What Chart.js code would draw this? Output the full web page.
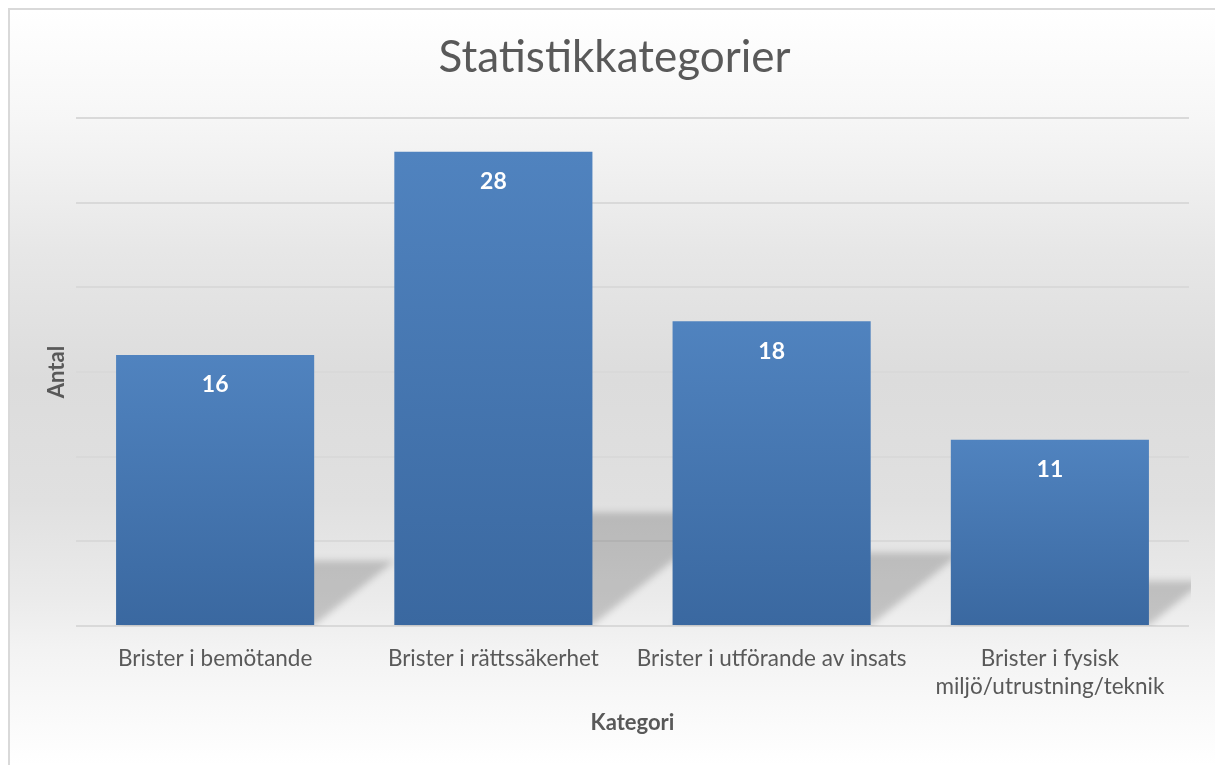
<!DOCTYPE html>
<html lang="sv">
<head>
<meta charset="utf-8">
<title>Statistikkategorier</title>
<script src="https://cdn.jsdelivr.net/npm/chart.js@4.4.1/dist/chart.umd.min.js"></script>
<style>
  html, body { margin: 0; padding: 0; overflow: hidden; background: #fff; }
  #ram {
    position: absolute; left: 8px; top: 8px;
    width: 1220px; height: 755px;
    border-left: 2px solid #d9d9d9; border-top: 2px solid #d9d9d9;
    background: linear-gradient(to bottom,
      #ffffff 0%, #f6f6f6 14.6%, #e7e7e7 31.8%, #dcdcdc 49%,
      #e0e0e0 64.9%, #ebebeb 78%, #f3f3f3 84.8%, #ffffff 100%);
  }
  canvas { display: block; }
</style>
</head>
<body>
<div id="ram"><canvas id="diagram" width="1220" height="755"></canvas></div>
<script>
  // data
  const kategorier = [
    'Brister i bemötande',
    'Brister i rättssäkerhet',
    'Brister i utförande av insats',
    ['Brister i fysisk', 'miljö/utrustning/teknik'],
  ];
  const antal = [16, 28, 18, 11];
  const yMin = 0;
  const yMax = 30;
  const ySteg = 5;

  const TEXT = '#595959';
  const FONT = 'Lato, "Open Sans", sans-serif';

  function stapelFarg(ctx) {
    const chart = ctx.chart;
    const y = chart.scales && chart.scales.y;
    if (!y || ctx.type !== 'data') return '#4a7bb5';
    const topp = y.getPixelForValue(ctx.raw);
    const bas = y.getPixelForValue(0);
    if (!isFinite(topp) || !isFinite(bas) || topp === bas) return '#4a7bb5';
    const g = chart.ctx.createLinearGradient(0, topp, 0, bas);
    g.addColorStop(0, '#5083bf');
    g.addColorStop(1, '#3a68a0');
    return g;
  }

  // skugga snett bakom varje stapel
  const skugga = {
    id: 'skugga',
    beforeDatasetsDraw(chart) {
      const { ctx, chartArea: a } = chart;
      const meta = chart.getDatasetMeta(0);
      ctx.save();
      ctx.beginPath();
      ctx.rect(a.left, a.top, a.right - a.left + 2, a.bottom - a.top);
      ctx.clip();
      ctx.filter = 'blur(3.5px)';
      ctx.fillStyle = 'rgba(0,0,0,0.18)';
      meta.data.forEach((el) => {
        const xL = el.x - el.width / 2;
        const xR = el.x + el.width / 2;
        const h = el.base - el.y;
        const s = 0.238 * h;
        const dx = 1.25 * s;
        ctx.beginPath();
        ctx.moveTo(xL, el.base);
        ctx.lineTo(xR, el.base);
        ctx.lineTo(xR + dx, el.base - s);
        ctx.lineTo(xL + dx, el.base - s);
        ctx.closePath();
        ctx.fill();
      });
      ctx.restore();
    },
  };

  const etiketter = {
    id: 'etiketter',
    afterDatasetsDraw(chart) {
      const { ctx } = chart;
      const meta = chart.getDatasetMeta(0);
      ctx.save();
      ctx.fillStyle = '#ffffff';
      ctx.font = 'bold 23px ' + FONT;
      ctx.textAlign = 'center';
      ctx.textBaseline = 'middle';
      meta.data.forEach((el, i) => {
        ctx.fillText(String(antal[i]), el.x, el.y + 30);
      });
      ctx.restore();
    },
  };

  new Chart(document.getElementById('diagram'), {
    type: 'bar',
    data: {
      labels: kategorier,
      datasets: [
        {
          label: 'Antal',
          data: antal,
          backgroundColor: stapelFarg,
          borderWidth: 0,
          categoryPercentage: 1,
          barPercentage: 0.712,
        },
      ],
    },
    plugins: [skugga, etiketter],
    options: {
      responsive: false,
      animation: false,
      layout: { padding: { left: 30, right: 41, top: 0, bottom: 26.6 } },
      plugins: {
        legend: { display: false },
        tooltip: { enabled: false },
        title: {
          display: true,
          text: 'Statistikkategorier',
          color: TEXT,
          font: { family: FONT, size: 44, weight: 'normal' },
          padding: { top: 21.6, bottom: 33.6 },
        },
      },
      scales: {
        x: {
          grid: { display: false, drawTicks: false },
          border: { display: false },
          ticks: {
            color: TEXT,
            font: { family: FONT, size: 22.5, lineHeight: 28 / 22.5 },
            padding: 19,
            maxRotation: 0,
            autoSkip: false,
          },
          title: {
            display: true,
            text: 'Kategori',
            color: TEXT,
            font: { family: FONT, size: 22, weight: 'bold' },
            padding: { top: 4, bottom: 2.2 },
          },
          afterFit(s) { s.height = 112.4; },
        },
        y: {
          min: yMin,
          max: yMax,
          grid: { color: '#d9d9d9', lineWidth: 2, drawTicks: false },
          border: { display: false },
          ticks: { display: false, stepSize: ySteg },
          title: {
            display: true,
            text: 'Antal',
            color: TEXT,
            font: { family: FONT, size: 22, weight: 'bold' },
            padding: { top: 3.8, bottom: 5.8 },
          },
        },
      },
    },
  });
</script>
</body>
</html>
